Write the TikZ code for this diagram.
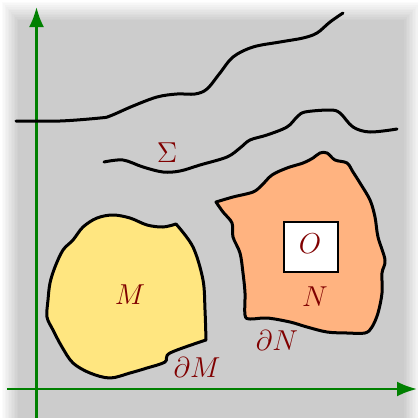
\documentclass[tikz,border=0pt]{standalone}
\usetikzlibrary{arrows.meta}
\definecolor{bggray}{HTML}{CCCCCC}
\definecolor{axisgreen}{HTML}{008000}
\definecolor{labelred}{HTML}{800000}
\definecolor{mfill}{HTML}{FFE680}
\definecolor{nfill}{HTML}{FFB380}

\begin{document}
\begin{tikzpicture}[x=0.5pt, y=-0.5pt, >={Latex[length=10pt, width=7.5pt]},
    axis/.style={->, draw=axisgreen, fill=axisgreen, line width=1.3pt},
    edge/.style={draw=black, line width=1.5pt, line join=round, line cap=round},
    lbl/.style={text=labelred, inner sep=0pt, font=\fontsize{14}{16}\selectfont}]
    \useasboundingbox (0,0) rectangle (418,418);

    % blurred grey backdrop
    \begin{scope}
        \clip (0,0) rectangle (418,418);
        \foreach \k [evaluate=\k as \shade using \k*20/12] in {0,...,12}
            \fill[black!\shade] ({1.5*\k},{1.7*\k}) rectangle ({422-1.5*\k},440);
    \end{scope}

    % axes
    \coordinate (ybot) at (36.5,418);
    \coordinate (ytop) at (36.5,7);
    \coordinate (xleft) at (7,389);
    \coordinate (xright) at (417,389);
    \draw[axis] (ybot) -- (ytop);
    \draw[axis] (xleft) -- (xright);

    % the two curves
    \draw[edge] plot[smooth, tension=0.55] coordinates {(16,121) (60,121) (100,118) (110,116) (133,106)
        (157,97) (177,94) (195,94) (207,89) (220,73) (233,57) (253,47) (280,42) (303,38) (317,33)
        (330,22) (343,13)};
    \draw[edge] plot[smooth, tension=0.55] coordinates {(104,162) (123,160) (143,167) (163,172)
        (180,171) (200,165) (227,157) (240,148) (250,140) (267,135) (287,127) (297,117) (305,112)
        (330,110) (340,113) (353,127) (370,132) (397,129)};

    % region M
    \filldraw[edge, fill=mfill] plot[smooth, tension=0.55] coordinates {(176,224) (193,247) (203,280)
        (205,310) (206,340)}
        -- plot[smooth, tension=0.55] coordinates {(206,340) (170,353) (165,362) (147,368) (130,373)
        (110,378) (90,373) (73,363) (62,347) (53,330) (47,317) (48,300) (50,283) (55,267) (63,250)
        (73,240) (83,227) (97,218) (113,215) (130,218) (147,225) (163,227) (176,224)} -- cycle;

    % region N
    \filldraw[edge, fill=nfill] plot[smooth, tension=0.55] coordinates {(216,202) (233,197) (253,192)
        (262,185) (272,175) (287,168) (303,163) (313,158) (320,153) (327,153) (335,160) (347,163)
        (353,172) (360,183) (370,200) (375,217) (378,237) (385,260) (382,273) (382,293) (378,313)
        (372,327) (365,333) (347,333) (327,332) (307,327) (290,322) (267,318) (250,319) (245,315)
        (245,293) (243,273) (240,253) (233,237) (232,223) (223,212) (216,202)} -- cycle;

    % box O
    \filldraw[fill=white, draw=black, line width=0.6pt] (284,222) rectangle (338,272);

    % labels
    \node[lbl] (sigma) at (167,153) {$\Sigma$};
    \node[lbl] (m) at (130,295) {$M$};
    \node[lbl] (dm) at (197,367) {$\partial M$};
    \node[lbl] (n) at (315,297) {$N$};
    \node[lbl] (dn) at (277,340) {$\partial N$};
    \node[lbl] (o) at (310,244) {$O$};
\end{tikzpicture}
\end{document}
